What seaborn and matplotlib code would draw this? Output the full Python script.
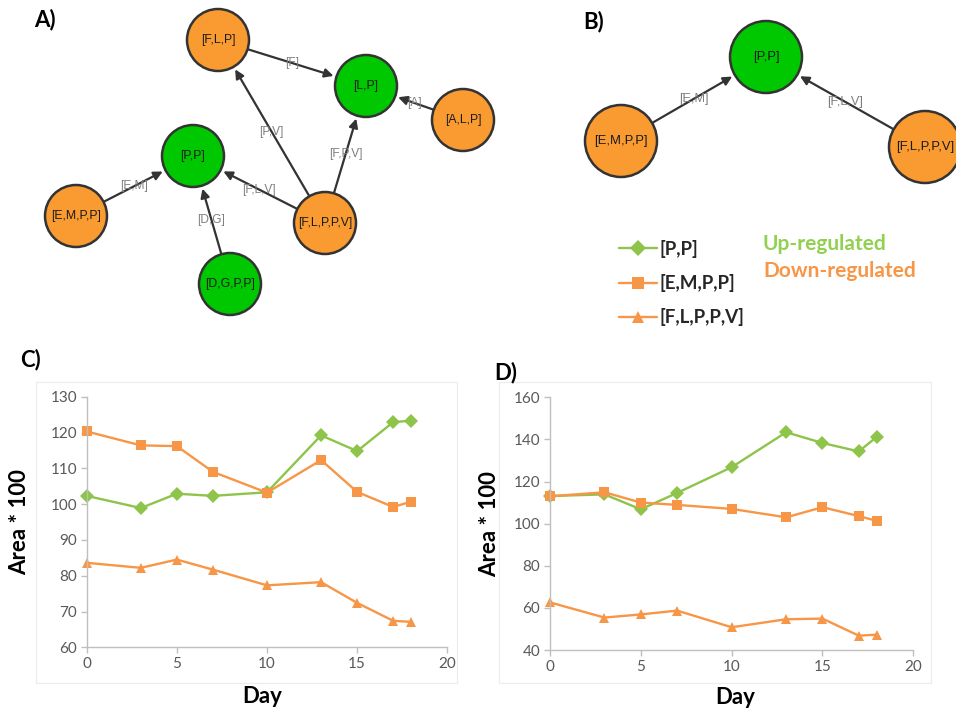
import numpy as np
import pandas as pd
import matplotlib
matplotlib.use("Agg")
import matplotlib.pyplot as plt
import seaborn as sns
from matplotlib.patches import Circle, FancyArrowPatch, Rectangle

# ---------------- data ----------------
days = [0, 3, 5, 7, 10, 13, 15, 17, 18]
series_names = ["[P,P]", "[E,M,P,P]", "[F,L,P,P,V]"]

c_pp = [102.3, 98.9, 102.9, 102.3, 103.3, 119.2, 114.8, 122.9, 123.3]
c_empp = [120.3, 116.4, 116.2, 109.0, 103.2, 112.3, 103.4, 99.2, 100.7]
c_flppv = [83.6, 82.2, 84.5, 81.7, 77.3, 78.2, 72.4, 67.4, 67.1]

d_pp = [113.1, 113.9, 106.8, 114.6, 126.8, 143.4, 138.3, 134.3, 141.3]
d_empp = [113.0, 114.9, 110.0, 108.9, 107.0, 103.0, 107.8, 103.6, 101.3]
d_flppv = [62.6, 55.4, 56.9, 58.7, 50.8, 54.6, 54.9, 46.8, 47.3]

c_yticks = [60, 70, 80, 90, 100, 110, 120, 130]
d_yticks = [40, 60, 80, 100, 120, 140, 160]
xticks = [0, 5, 10, 15, 20]

# network A
a_labels = ["[F,L,P]", "[L,P]", "[A,L,P]", "[P,P]", "[E,M,P,P]", "[F,L,P,P,V]", "[D,G,P,P]"]
a_up = [False, True, False, True, False, False, True]
a_edges = [(0, 1, "[F]"), (2, 1, "[A]"), (5, 0, "[P,V]"), (5, 1, "[F,P,V]"),
           (5, 3, "[F,L,V]"), (4, 3, "[E,M]"), (6, 3, "[D,G]")]
# network B
b_labels = ["[P,P]", "[E,M,P,P]", "[F,L,P,P,V]"]
b_up = [True, False, False]
b_edges = [(1, 0, "[E,M]"), (2, 0, "[F,L,V]")]

# layout (pixel positions of the graph layout)
W, H = 956, 711
a_pos = [(218, 40), (366, 86), (463, 120), (193, 156), (76, 216), (325, 223), (230, 284)]
b_pos = [(766, 57), (621, 141), (925, 147)]

GREEN_NODE = "#00c800"
ORANGE_NODE = "#f99b30"
LINE_GREEN = "#8dc449"
LINE_ORANGE = "#f79646"

sns.set_theme(style="white")
plt.rcParams["font.family"] = ["Lato", "DejaVu Sans"]

fig = plt.figure(figsize=(9.56, 7.11), dpi=100)

net = fig.add_axes([0, 0, 1, 1])
net.set_xlim(0, W)
net.set_ylim(H, 0)
net.axis("off")


def draw_network(labels, ups, pos, edges, r, fs):
    for (s, t, lab) in edges:
        x0, y0 = pos[s]
        x1, y1 = pos[t]
        d = np.hypot(x1 - x0, y1 - y0)
        ux, uy = (x1 - x0) / d, (y1 - y0) / d
        p0 = (x0 + ux * r, y0 + uy * r)
        p1 = (x1 - ux * (r + 3), y1 - uy * (r + 3))
        arr = FancyArrowPatch(p0, p1, arrowstyle="-|>", mutation_scale=13,
                              color="#333333", lw=1.6, zorder=2,
                              shrinkA=0, shrinkB=0)
        net.add_patch(arr)
        net.text((x0 + x1) / 2, (y0 + y1) / 2, lab, ha="center", va="center",
                 fontsize=fs - 0.2, color="#7f7f7f",
                 family=["Liberation Sans", "DejaVu Sans"], zorder=3)
    for lab, up, (x, y) in zip(labels, ups, pos):
        c = Circle((x, y), r, facecolor=GREEN_NODE if up else ORANGE_NODE,
                   edgecolor="#333333", lw=1.8, zorder=4)
        net.add_patch(c)
        net.text(x, y, lab, ha="center", va="center", fontsize=fs,
                 color="#1a1a1a", family=["Liberation Sans", "DejaVu Sans"], zorder=5)


draw_network(a_labels, a_up, a_pos, a_edges, 31, 8.8)
draw_network(b_labels, b_up, b_pos, b_edges, 36, 9.4)

# chart area frames (faint)
net.add_patch(Rectangle((36, 382), 421, 301, fill=False, ec="#ececec", lw=0.8))
net.add_patch(Rectangle((499, 382), 432, 301, fill=False, ec="#ececec", lw=0.8))

# panel labels
for txt, (x, y) in zip(["A)", "B)", "C)", "D)"], [(45, 20), (594, 22), (31, 360), (506, 373)]):
    net.text(x, y, txt, ha="center", va="center", fontsize=16, fontweight="bold", color="black")

net.text(763, 244, "Up-regulated", ha="left", va="center", fontsize=15,
         fontweight="bold", color="#92d050")
net.text(763, 271, "Down-regulated", ha="left", va="center", fontsize=15,
         fontweight="bold", color="#f79646")

palette = {series_names[0]: LINE_GREEN, series_names[1]: LINE_ORANGE, series_names[2]: LINE_ORANGE}
markers = {series_names[0]: "D", series_names[1]: "s", series_names[2]: "^"}


def make_df(a, b, c):
    rows = []
    for name, vals in zip(series_names, [a, b, c]):
        for d, v in zip(days, vals):
            rows.append({"Day": d, "Area": v, "Series": name})
    return pd.DataFrame(rows)


def style_axes(ax, yticks, ylab_x, xlab_x, xlab_y):
    ax.set_xlim(0, 20)
    ax.set_ylim(yticks[0], yticks[-1])
    ax.set_xticks(xticks)
    ax.set_yticks(yticks)
    for s in ["top", "right"]:
        ax.spines[s].set_visible(False)
    for s in ["left", "bottom"]:
        ax.spines[s].set_color("#bfbfbf")
        ax.spines[s].set_linewidth(1.0)
    ax.tick_params(direction="out", length=4, width=1, color="#bfbfbf",
                   labelsize=11, labelcolor="#595959", pad=3,
                   left=True, bottom=True)
    ax.grid(False)
    ax.set_facecolor("none")
    ax.set_xlabel("Day", fontsize=16, fontweight="bold", color="black", va="center")
    ax.set_ylabel("Area * 100", fontsize=16, fontweight="bold", color="black", va="center")
    ax.yaxis.set_label_coords(ylab_x, 0.5)
    ax.xaxis.set_label_coords(xlab_x, xlab_y)


axC = fig.add_axes([86.7 / W, 1 - 647.3 / H, (447.3 - 86.7) / W, (647.3 - 396.7) / H])
axD = fig.add_axes([550 / W, 1 - 650 / H, (913.3 - 550) / W, (650 - 397.3) / H])

for ax, vals, yt, lx, xx, xy in [
    (axC, (c_pp, c_empp, c_flppv), c_yticks, -0.185, 0.486, -0.198),
    (axD, (d_pp, d_empp, d_flppv), d_yticks, -0.165, 0.509, -0.186),
]:
    df = make_df(*vals)
    sns.lineplot(data=df, x="Day", y="Area", hue="Series", style="Series",
                 palette=palette, markers=markers, dashes=False,
                 markersize=7, markeredgewidth=0, linewidth=1.7,
                 ax=ax, legend=True, clip_on=False)
    style_axes(ax, yt, lx, xx, xy)

handles, labels = axC.get_legend_handles_labels()
axC.get_legend().remove()
axD.get_legend().remove()
for h in handles:
    h.set_markersize(8)
leg = fig.legend(handles, labels, loc="upper left",
                 bbox_to_anchor=(619 / W, 1 - 240 / H), frameon=False,
                 prop={"weight": "bold", "size": 13.5}, handlelength=2.0,
                 handletextpad=0.15, labelspacing=0.86, borderpad=0, borderaxespad=0)

fig.savefig("out.png", dpi=100)
